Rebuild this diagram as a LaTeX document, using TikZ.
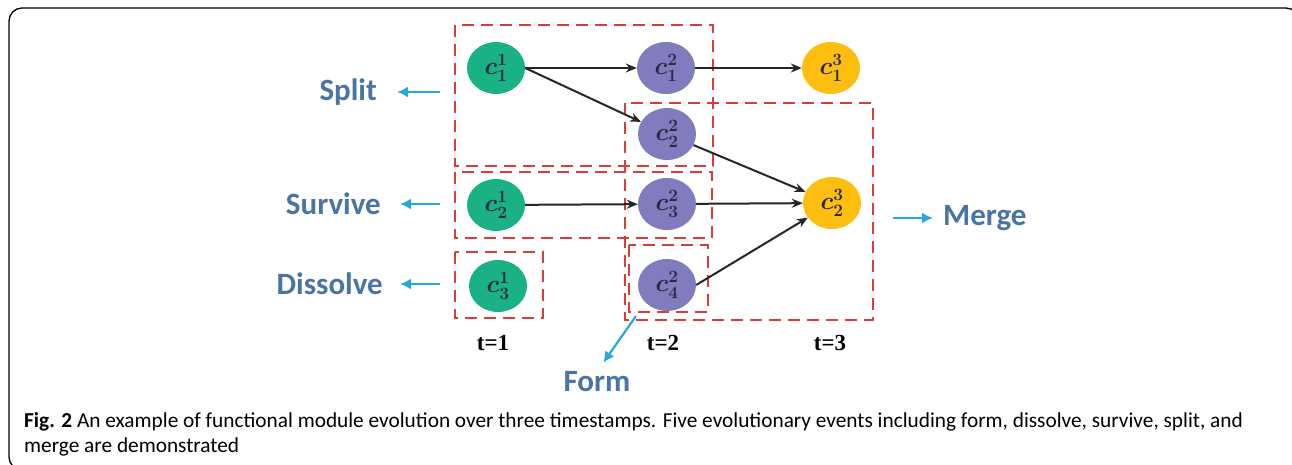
\documentclass[tikz,border=0pt]{standalone}
\usepackage{fontspec}
\setmainfont{Carlito}
\newfontfamily\timesfam{Liberation Serif}
\usetikzlibrary{shapes.geometric,arrows.meta}
\definecolor{cgreen}{RGB}{26,178,132}
\definecolor{cpurple}{RGB}{128,124,190}
\definecolor{cyellow}{RGB}{253,190,16}
\definecolor{dred}{RGB}{216,60,60}
\definecolor{lblue}{RGB}{74,116,165}
\definecolor{ablue}{RGB}{40,166,222}
\definecolor{navy}{RGB}{40,40,70}
\begin{document}
\begin{tikzpicture}[x=1pt,y=-1pt,
  mod/.style={ellipse, minimum width=58pt, minimum height=52pt, inner sep=0pt, text=navy, font=\fontsize{25}{25}\selectfont\boldmath},
  evt/.style={font=\fontsize{31}{31}\selectfont\bfseries, text=lblue, inner sep=0pt},
  tlab/.style={font=\timesfam\bfseries\fontsize{23}{23}\selectfont, inner sep=0pt},
  dbox/.style={draw=dred, line width=2.2pt, dash pattern=on 12pt off 7pt},
  flow/.style={draw=black!85, line width=2pt, -{Stealth[length=11pt,width=9pt]}},
  ev/.style={draw=ablue, line width=2.2pt, -{Latex[length=11pt,width=11pt]}},
  captxt/.style={font=\fontsize{21.3}{25}\selectfont, inner sep=0pt, anchor=base west}
]
\useasboundingbox (0,0) rectangle (1292,465);
% frame
\draw[line width=1.3pt, rounded corners=13pt] (9,8) rectangle (1299,470);

% dashed boxes
\draw[dbox] (455,25) rectangle (713,166);
\draw[dbox] (455,172) rectangle (712,238);
\draw[dbox] (455,252) rectangle (543,318);
\draw[dbox] (625,103) rectangle (873,320);
\draw[dbox] (629,245) rectangle (708,312);

% modules
\node[mod, fill=cgreen] (g1) at (496,68) {$c^1_1$};
\node[mod, fill=cgreen] (g2) at (496,205) {$c^1_2$};
\node[mod, fill=cgreen] (g3) at (498,286) {$c^1_3$};
\node[mod, fill=cpurple] (p1) at (666,68) {$c^2_1$};
\node[mod, fill=cpurple] (p2) at (667,134) {$c^2_2$};
\node[mod, fill=cpurple] (p3) at (667,204) {$c^2_3$};
\node[mod, fill=cpurple] (p4) at (667,285) {$c^2_4$};
\node[mod, fill=cyellow] (y1) at (831,68) {$c^3_1$};
\node[mod, fill=cyellow] (y2) at (832,203) {$c^3_2$};

% flows
\draw[flow] (g1) -- (p1);
\draw[flow] (g1.east) -- (p2);
\draw[flow] (p1) -- (y1);
\draw[flow] (p2) -- (y2);
\draw[flow] (g2) -- (p3);
\draw[flow] (p3) -- (y2);
\draw[flow] (p4.east) -- (y2);

% event labels
\node[evt, anchor=east] (split) at (377,92) {Split};
\node[evt, anchor=east] (survive) at (381,204) {Survive};
\node[evt, anchor=east] (dissolve) at (383,284) {Dissolve};
\node[evt, anchor=west] (merge) at (943,218) {Merge};
\node[evt] (form) at (597,382) {Form};

\coordinate (sa) at (440,92);
\coordinate (sb) at (440,204);
\coordinate (sc) at (440,284);
\coordinate (ma) at (893,218);
\coordinate (fa) at (636,316);
\draw[ev, shorten >=20pt] (sa) -- (split.east);
\draw[ev, shorten >=19pt] (sb) -- (survive.east);
\draw[ev, shorten >=17pt] (sc) -- (dissolve.east);
\draw[ev, shorten >=10pt] (ma) -- (merge.west);
\draw[ev, shorten >=11pt] (fa) -- (form.north);

% time labels
\node[tlab] (t1) at (493,343) {t=1};
\node[tlab] (t2) at (663,343) {t=2};
\node[tlab] (t3) at (830,343) {t=3};

% caption
\node[captxt] (cap1) at (24,427) {\textbf{Fig. 2} An example of functional module evolution over three timestamps. Five evolutionary events including form, dissolve, survive, split, and};
\node[captxt] (cap2) at (24,452) {merge are demonstrated};
\end{tikzpicture}
\end{document}
